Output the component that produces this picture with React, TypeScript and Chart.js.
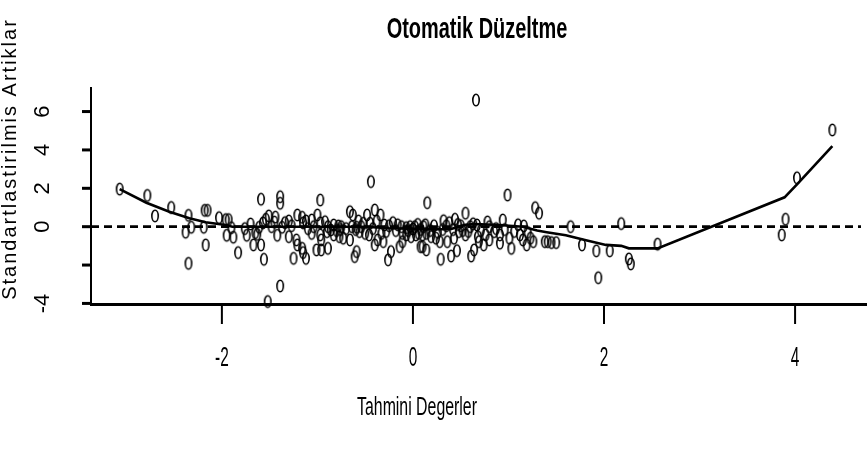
import React, { useEffect, useRef } from "react";
import { Chart, registerables } from "chart.js";

Chart.register(...registerables);

const TITLE = "Otomatik Düzeltme";
const X_TITLE = "Tahmini Degerler";
const Y_TITLE = "Standartlastirilmis Artiklar";

const X_MIN = -3.37;
const X_MAX = 4.69;
const Y_MIN = -4.03;
const Y_MAX = 7.28;

const xTicks = [-2, 0, 2, 4];
const xTickLabels = ["-2", "0", "2", "4"];
const yTicks = [-4, -2, 0, 2, 4, 6];
const yTickLabels = ["-4", "", "0", "2", "4", "6"];

// fitted values (x) of each residual point
const residX = [
  -3.07, -2.78, -2.7, -2.53, -2.35, -2.38, -2.32, -2.35, -2.18, -2.15, -2.19, -2.17, -2.03, -1.96, -1.93,
  -1.95, -1.88, -1.83, -1.74, -1.7, -1.67, -1.65, -1.61, -1.59, -1.59, -1.56, -1.54, -1.51, -1.52, -1.48,
  -1.45, -1.42, -1.39, -1.39, -1.39, -1.37, -1.34, -1.3,
  -1.25, -1.22, -1.21, -1.21, -1.16, -1.15, -1.16, -1.15, -1.12, -1.06, -1.06, -1.04, -1.01, -1.0, -0.97,
  -0.97, -0.97, -0.96, -0.96, -0.92, -0.89, -0.89, -0.9, -0.83, -0.83, -0.78, -0.77, -0.75, -0.73, -0.7,
  -0.66, -0.66, -0.64, -0.63, -0.61, -0.59, -0.59, -0.56, -0.54, -0.52, -0.5, -0.48, -0.46, -0.45, -0.44,
  -0.4, -0.4, -0.37, -0.34, -0.33, -0.31, -0.3, -0.26, -0.23, -0.21, -0.18, -0.14, -0.12, -0.11, -0.11,
  -0.07, -0.07, -0.03, -0.02, 0.02, 0.03, 0.06, 0.08,
  0.1, 0.11, 0.14, 0.1, 0.14, 0.15, 0.19, 0.22, 0.24, 0.28, 0.29, 0.32, 0.36, 0.38, 0.4, 0.43, 0.44, 0.46,
  0.48, 0.5, 0.55, 0.55, 0.6, 0.61, 0.64, 0.66, 0.67, 0.68, 0.69, 0.74, 0.76, 0.8, 0.8, 0.85, 0.91, 0.91,
  0.94, 0.99, 1.01, 1.03, 1.12, 1.15, 1.16, 1.19, 1.23, 1.26, 1.28, 1.32,
  1.38, 1.41, 1.45, 1.5, 1.65, 1.77, 1.92, 1.94, 2.06, 2.18, 2.26, 2.28, 2.56, 3.86, 3.9, 4.02, 4.39,
  -0.86, -0.8, -0.76, -0.6, -0.57, -0.42, -0.38, -0.28, -0.25, -0.16, -0.05, 0.0, 0.05, 0.08, 0.13, 0.18,
  0.26, 0.31, 0.35, 0.42, 0.47, 0.52, 0.58, 0.63, 0.71, 0.78, 0.87, 0.96, 1.06, 1.1, 1.2, -1.1, -1.12,
  -1.27, -1.3, -1.44, -1.57, -1.63, -1.76, -1.9,
];

// standardized residuals (y)
const residY = [
  1.96, 1.63, 0.56, 1.0, 0.59, -0.29, -0.03, -1.91, 0.85, 0.85, -0.03, -0.95, 0.47, 0.37, 0.37,
  -0.45, -0.55, -1.35, -0.45, 0.14, -0.95, -0.31, -0.03, 1.43, -0.95, -1.7, 0.39, 0.56, -3.9, 0.0,
  0.24, -0.45, 1.56, 1.22, -3.09, -0.03, 0.21, -0.52,
  -1.65, -0.69, -0.95, 0.61, 0.49, 0.2, -1.13, -1.35, -1.65, 0.35, -0.35, 0.0, -1.21, 0.61, 0.2,
  1.39, -0.43, -1.21, -0.69, 0.26, 0.0, -1.13, -0.26, 0.09, -0.43, 0.04, -0.52, 0.0, -0.6, -0.1,
  0.78, -0.69, 0.0, 0.61, -1.56, -1.3, -0.03, -0.26, 0.0, 0.18, -0.35, 0.61, -0.43, 0.18, 2.35,
  0.87, -0.95, -0.69, 0.61, -0.35, -0.78, 0.09, -1.73, -1.3, 0.21, -0.2, -1.04, 0.0, -0.78, -0.35,
  -0.05, -0.43, 0.0, -0.52, 0.0, -0.43, -0.35, -1.04,
  -0.43, 0.0, -0.35, -1.04, -1.21, 1.25, -0.52, 0.05, -0.6, -0.78, -1.7, 0.31, -0.78, 0.21, -1.53, -0.6, 0.39, -1.25,
  -0.26, 0.05, 0.7, -0.43, 0.0, -1.53, -1.21, 6.6, 0.09, -0.52, -0.78, -0.95, -0.43, 0.0, -0.69, -0.26, -0.43, -0.86,
  0.35, 1.65, -0.6, -1.13, -0.43, -0.69, 0.04, -0.95, -0.6, -0.78, 0.99, 0.7,
  -0.78, -0.78, -0.83, -0.83, 0.0, -0.95, -1.26, -2.66, -1.26, 0.16, -1.68, -1.94, -0.91, -0.43, 0.39, 2.55, 5.04,
  -0.17, -0.2, -0.15, -0.15, 0.3, -0.1, 0.3, -0.25, 0.05, 0.1, -0.2, -0.12, 0.12, -0.15, 0.1, -0.2,
  -0.3, -0.15, 0.05, -0.15, 0.12, -0.2, -0.25, 0.15, -0.2, 0.25, -0.1, -0.15, -0.25, 0.1, -0.3, -0.1, 0.3,
  0.05, 0.3, 0.5, 0.2, -0.4, -0.1, -0.05,
];

// smoother (lowess) line
const smoothX = [-3.07, -2.79, -2.55, -2.34, -2.17, -1.96, -1.89, -1.5, -1.0, -0.5, -0.25, 0.0, 0.2, 0.4, 0.55, 0.65, 0.9, 1.15, 1.3, 1.4, 1.6, 1.8, 2.02, 2.18, 2.26, 2.56, 3.89, 4.03, 4.39];
const smoothY = [1.96, 1.25, 0.78, 0.44, 0.23, 0.09, 0.0, 0.0, 0.0, 0.0, -0.08, -0.1, -0.14, -0.12, 0.1, 0.14, 0.09, 0.0, -0.2, -0.29, -0.45, -0.7, -0.95, -1.0, -1.13, -1.13, 1.53, 2.26, 4.2];

// reference line at zero
const zeroX = [X_MIN, X_MAX];
const zeroY = [0, 0];

const FONT = '"Liberation Sans", Arial, Helvetica, sans-serif';

function drawText(
  ctx: CanvasRenderingContext2D,
  text: string,
  x: number,
  y: number,
  font: string,
  sx: number,
  rotate: boolean,
  spacing = 0
) {
  ctx.save();
  ctx.translate(x, y);
  ctx.scale(sx, 1);
  if (rotate) ctx.rotate(-Math.PI / 2);
  ctx.font = font;
  (ctx as any).letterSpacing = `${spacing}px`;
  ctx.textAlign = "center";
  ctx.textBaseline = "middle";
  ctx.fillStyle = "#000";
  ctx.fillText(text, spacing / 2, 0);
  ctx.restore();
}

const axesPlugin = {
  id: "rAxes",
  afterDraw(chart: any) {
    const ctx: CanvasRenderingContext2D = chart.ctx;
    const xs = chart.scales.x;
    const ys = chart.scales.y;
    const { left, top, bottom } = chart.chartArea;
    ctx.save();
    ctx.strokeStyle = "#000";
    ctx.lineCap = "butt";
    // x axis line
    ctx.lineWidth = 3;
    ctx.beginPath();
    ctx.moveTo(left - 1, bottom + 0.5);
    ctx.lineTo(chart.width, bottom + 0.5);
    ctx.stroke();
    // y axis line
    ctx.lineWidth = 2;
    ctx.beginPath();
    ctx.moveTo(left, top);
    ctx.lineTo(left, bottom + 2);
    ctx.stroke();
    // x ticks
    xTicks.forEach((v, i) => {
      const px = xs.getPixelForValue(v);
      ctx.lineWidth = 2;
      ctx.beginPath();
      ctx.moveTo(px, bottom);
      ctx.lineTo(px, bottom + 20);
      ctx.stroke();
      drawText(ctx, xTickLabels[i], px, bottom + 54, `28px ${FONT}`, 0.55, false);
    });
    // y ticks
    yTicks.forEach((v, i) => {
      const py = ys.getPixelForValue(v);
      ctx.lineWidth = 3;
      ctx.beginPath();
      ctx.moveTo(left - 9, py);
      ctx.lineTo(left, py);
      ctx.stroke();
      if (yTickLabels[i]) drawText(ctx, yTickLabels[i], 43, py, `22px ${FONT}`, 1, true);
    });
    ctx.restore();
    // titles
    drawText(ctx, TITLE, 477, 30, `bold 30px ${FONT}`, 0.665, false);
    drawText(ctx, X_TITLE, 417, 408, `26px ${FONT}`, 0.61, false);
    drawText(ctx, Y_TITLE, 10, 160, `20px ${FONT}`, 1.05, true, 2);
  },
};

function makeEllipse(): HTMLCanvasElement {
  const c = document.createElement("canvas");
  c.width = 10;
  c.height = 16;
  const g = c.getContext("2d")!;
  g.strokeStyle = "#000";
  g.lineWidth = 1.6;
  g.beginPath();
  g.ellipse(5, 8, 3.2, 5.8, 0, 0, Math.PI * 2);
  g.stroke();
  return c;
}

export default function App() {
  const ref = useRef<HTMLCanvasElement | null>(null);

  useEffect(() => {
    document.body.style.margin = "0";
    document.body.style.background = "#fff";
    const canvas = ref.current!;
    const marker = makeEllipse();
    const chart = new Chart(canvas, {
      type: "scatter",
      data: {
        datasets: [
          {
            label: "residuals",
            data: residX.map((x, i) => ({ x, y: residY[i] })),
            pointStyle: marker as any,
            pointRadius: 5,
            showLine: false,
            clip: false as any,
          },
          {
            label: "lowess",
            data: smoothX.map((x, i) => ({ x, y: smoothY[i] })),
            showLine: true,
            borderColor: "#000",
            borderWidth: 2.6,
            pointRadius: 0,
            tension: 0,
            clip: false as any,
          },
          {
            label: "zero",
            data: zeroX.map((x, i) => ({ x, y: zeroY[i] })),
            showLine: true,
            borderColor: "#000",
            borderWidth: 2.8,
            borderDash: [8, 5],
            pointRadius: 0,
            clip: false as any,
          },
        ],
      },
      options: {
        responsive: false,
        animation: false,
        devicePixelRatio: 1,
        layout: { padding: { left: 91, right: 1, top: 87, bottom: 146 } },
        scales: {
          x: { type: "linear", min: X_MIN, max: X_MAX, display: false },
          y: { type: "linear", min: Y_MIN, max: Y_MAX, display: false },
        },
        plugins: {
          legend: { display: false },
          tooltip: { enabled: false },
          title: { display: false },
        },
      },
      plugins: [axesPlugin],
    });
    return () => chart.destroy();
  }, []);

  return (
    <div style={{ width: 867, height: 450, background: "#fff" }}>
      <canvas ref={ref} width={867} height={450} style={{ display: "block" }} />
    </div>
  );
}
